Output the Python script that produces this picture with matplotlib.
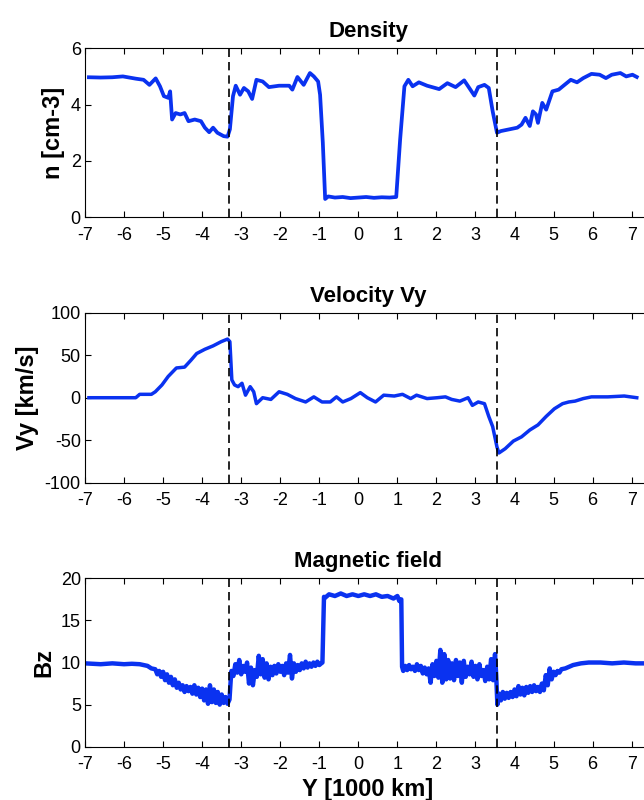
import matplotlib
matplotlib.use("Agg")
import matplotlib.pyplot as plt

plt.rcParams["font.family"] = ["Liberation Sans", "DejaVu Sans"]
plt.rcParams["axes.unicode_minus"] = False

# boundaries (dashed lines), in 1000 km
bounds = [-3.3, 3.55]

# density n [cm-3]
dens_x = [-6.9, -6.6, -6.3, -6.03, -5.7, -5.5, -5.35, -5.19, -5.08, -4.98, -4.87, -4.82,
          -4.77, -4.68, -4.56, -4.45, -4.35, -4.19, -4.03, -3.93, -3.82, -3.72, -3.61,
          -3.45, -3.35, -3.29, -3.21, -3.14, -3.03, -2.93, -2.82, -2.72, -2.61, -2.45,
          -2.29, -2.03, -1.77, -1.69, -1.56, -1.4, -1.24, -1.14, -1.03, -0.98, -0.91,
          -0.85, -0.77, -0.6, -0.4, -0.2, 0.0, 0.2, 0.4, 0.6, 0.8, 0.97, 1.07, 1.18, 1.28,
          1.39, 1.55, 1.76, 2.07, 2.28, 2.49, 2.71, 2.86, 2.97, 3.07, 3.23, 3.34, 3.44,
          3.55, 3.65, 3.86, 4.07, 4.18, 4.28, 4.39, 4.47, 4.55, 4.6, 4.71, 4.81, 4.97, 5.13,
          5.28, 5.44, 5.6, 5.76, 5.97, 6.18, 6.34, 6.49, 6.71, 6.86, 7.02, 7.13]
dens = [4.97, 4.96, 4.97, 5.0, 4.92, 4.88, 4.7, 4.93, 4.65, 4.3, 4.24, 4.47,
        3.47, 3.7, 3.65, 3.7, 3.41, 3.47, 3.41, 3.18, 3.02, 3.18, 3.0,
        2.88, 2.86, 3.12, 4.3, 4.67, 4.35, 4.59, 4.47, 4.2, 4.88, 4.82,
        4.62, 4.67, 4.67, 4.53, 4.98, 4.7, 5.12, 5.0, 4.82, 4.35, 2.65,
        0.65, 0.74, 0.7, 0.72, 0.68, 0.7, 0.72, 0.69, 0.71, 0.7, 0.72, 2.76, 4.65, 4.88,
        4.65, 4.79, 4.67, 4.55, 4.76, 4.62, 4.86, 4.55, 4.32, 4.62, 4.7, 4.59, 3.76,
        3.0, 3.06, 3.12, 3.18, 3.29, 3.53, 3.24, 3.76, 3.65, 3.35, 4.06, 3.82, 4.47, 4.53,
        4.7, 4.88, 4.79, 4.94, 5.09, 5.06, 4.94, 5.06, 5.12, 5.0, 5.06, 4.98]

# velocity Vy [km/s]
vel_x = [-6.9, -6.3, -5.7, -5.6, -5.3, -5.2, -5.03, -4.87, -4.66, -4.45, -4.29, -4.14,
         -3.93, -3.72, -3.51, -3.35, -3.29, -3.24, -3.17, -3.08, -2.98, -2.89, -2.77,
         -2.68, -2.61, -2.45, -2.24, -2.03, -1.82, -1.61, -1.35, -1.14, -0.93, -0.72,
         -0.56, -0.4, -0.19, 0.05, 0.23, 0.44, 0.65, 0.92, 1.13, 1.34, 1.49, 1.76, 2.02,
         2.23, 2.39, 2.6, 2.81, 2.92, 3.07, 3.23, 3.34, 3.44, 3.55, 3.6, 3.76, 3.97, 4.18,
         4.39, 4.6, 4.81, 5.02, 5.23, 5.39, 5.55, 5.76, 5.97, 6.39, 6.81, 7.13]
vel = [0, 0, 0, 4, 4, 7, 15, 25, 35, 36, 44, 52,
       57, 61, 66, 69, 66, 21, 15, 13, 17, 3, 13,
       7, -7, 0, -2, 7, 4, -1, -5, 1, -5, -5,
       1, -5, -1, 6, 0, -5, 3, 2, 4, -1, 3, -1, 0,
       1, -2, -4, 0, -9, -5, -7, -22, -34, -58, -65, -60, -51, -46,
       -38, -32, -22, -13, -7, -5, -4, -1, 1, 1, 2, 0]

# magnetic field Bz
bz_x = [-7.0, -6.6, -6.3, -6.0, -5.8, -5.6, -5.5, -5.4, -5.3,
        -5.2, -5.15, -5.1, -5.05, -5.0, -4.95, -4.9, -4.85, -4.8, -4.75, -4.7, -4.65,
        -4.6, -4.55, -4.5, -4.45, -4.4, -4.35, -4.3, -4.25, -4.2, -4.15, -4.1, -4.05,
        -4.0, -3.95, -3.9, -3.85, -3.8, -3.75, -3.7, -3.65, -3.6, -3.55, -3.5, -3.45,
        -3.4, -3.35, -3.3, -3.27, -3.25,
        -3.2, -3.15, -3.1, -3.05, -3.0, -2.95, -2.9, -2.85, -2.8, -2.75, -2.7, -2.65,
        -2.6, -2.55, -2.5, -2.45, -2.4, -2.35, -2.3, -2.25, -2.2, -2.15, -2.1, -2.05,
        -2.0, -1.95, -1.9, -1.85, -1.8, -1.75, -1.7, -1.65, -1.6, -1.55, -1.5, -1.45,
        -1.4, -1.35, -1.3, -1.25, -1.2, -1.15, -1.1, -1.05, -1.0, -0.95, -0.92, -0.88,
        -0.85, -0.75, -0.6, -0.45, -0.3, -0.15, 0.0, 0.15, 0.3, 0.45, 0.6, 0.75, 0.9,
        1.0, 1.05, 1.1, 1.12,
        1.15, 1.2, 1.25, 1.3, 1.35, 1.4, 1.45, 1.5, 1.55, 1.6, 1.65, 1.7, 1.75, 1.8,
        1.85, 1.9, 1.95, 2.0, 2.05, 2.1, 2.15, 2.2, 2.25, 2.3, 2.35, 2.4, 2.45, 2.5,
        2.55, 2.6, 2.65, 2.7, 2.75, 2.8, 2.85, 2.9, 2.95, 3.0, 3.05, 3.1, 3.15, 3.2,
        3.25, 3.3, 3.35, 3.4, 3.45, 3.5, 3.53, 3.56,
        3.6, 3.65, 3.7, 3.75, 3.8, 3.85, 3.9, 3.95, 4.0, 4.05, 4.1, 4.15, 4.2, 4.25,
        4.3, 4.35, 4.4, 4.45, 4.5, 4.55, 4.6, 4.65, 4.7, 4.75, 4.8, 4.85, 4.9, 4.95,
        5.0, 5.05, 5.1, 5.15, 5.2, 5.3, 5.4, 5.5, 5.7, 5.9, 6.2, 6.5, 6.8, 7.1, 7.3]
bz = [9.9, 9.8, 9.9, 9.8, 9.85, 9.8, 9.7, 9.6, 9.3,
      9.2, 8.6, 9.0, 8.3, 8.9, 7.9, 8.6, 7.6, 8.3, 7.3, 8.0, 7.0,
      7.6, 6.8, 7.3, 6.5, 7.2, 6.6, 7.1, 6.3, 7.3, 6.2, 7.0, 5.9,
      6.9, 5.5, 6.8, 5.1, 7.3, 5.3, 6.8, 5.2, 6.5, 5.0, 6.2, 5.2,
      5.9, 5.1, 5.6, 7.8, 9.0,
      8.4, 9.8, 8.8, 10.3, 8.6, 9.6, 8.9, 10.0, 7.5, 9.4, 7.3, 9.1,
      8.3, 10.8, 8.6, 10.4, 8.2, 9.9, 8.0, 9.5, 8.5, 9.6, 8.7, 9.8,
      8.9, 9.6, 8.5, 9.9, 8.8, 10.9, 8.1, 9.9, 8.9, 9.7, 9.1, 9.9,
      9.3, 10.1, 9.4, 9.9, 9.5, 10.0, 9.6, 10.1, 9.7, 9.9, 10.0, 17.8,
      17.7, 18.1, 17.9, 18.2, 17.9, 18.1, 17.9, 18.1, 17.9, 18.1, 17.8, 17.9, 17.6,
      17.9, 17.3, 17.5, 9.5,
      9.0, 9.6, 9.1, 9.7, 9.2, 9.5, 9.0, 9.8, 9.1, 9.6, 8.7, 9.4, 8.6, 9.3,
      7.6, 9.8, 8.4, 10.2, 8.2, 11.5, 7.6, 11.0, 8.0, 10.3, 8.1, 9.9, 7.9, 10.3,
      8.4, 10.0, 7.6, 10.2, 8.3, 9.5, 8.6, 10.1, 8.3, 9.6, 8.0, 9.8, 8.4, 9.1,
      7.8, 9.5, 8.0, 10.4, 7.9, 11.0, 8.5, 5.0,
      6.3, 5.5, 6.5, 5.7, 6.4, 5.8, 6.5, 5.9, 6.8, 6.0, 7.2, 6.2, 7.0, 6.1,
      7.1, 6.4, 7.2, 6.5, 7.3, 6.6, 7.1, 6.5, 7.5, 6.7, 8.5, 7.3, 9.3, 8.0,
      8.9, 8.5, 9.0, 8.8, 9.2, 9.3, 9.5, 9.7, 9.9, 10.0, 10.0, 9.9, 10.0, 9.9, 9.9]

blue = "#0a32f0"

fig = plt.figure(figsize=(6.44, 8), dpi=100)

# axes placed by hand, right side runs past the picture edge like the original
ax1 = fig.add_axes([0.132, 0.7284, 0.8792, 0.2113])
ax2 = fig.add_axes([0.132, 0.3966, 0.8792, 0.2125])
ax3 = fig.add_axes([0.132, 0.0666, 0.8792, 0.2105])

panels = [
    (ax1, dens_x, dens, "Density", "n [cm-3]", (0, 6), [0, 2, 4, 6], 2.7),
    (ax2, vel_x, vel, "Velocity Vy", "Vy [km/s]", (-100, 100), [-100, -50, 0, 50, 100], 2.5),
    (ax3, bz_x, bz, "Magnetic field", "Bz", (0, 20), [0, 5, 10, 15, 20], 3.2),
]

for ax, x, y, title, ylab, ylim, yt, lw in panels:
    ax.plot(x, y, color=blue, lw=lw)
    for b in bounds:
        ax.axvline(b, color="black", ls=(0, (5, 3)), lw=1.2)
    ax.set_xlim(-7, 7.5)
    ax.set_ylim(*ylim)
    ax.set_xticks(range(-7, 8))
    ax.set_yticks(yt)
    ax.tick_params(direction="in", length=4, width=0.8, labelsize=13,
                   top=True, right=True)
    ax.tick_params(axis="x", pad=7)
    ax.tick_params(axis="y", pad=3)
    for s in ax.spines.values():
        s.set_linewidth(0.8)
    ax.set_title(title, fontsize=16, fontweight="bold", pad=8)
    ax.set_ylabel(ylab, fontsize=17, fontweight="bold", labelpad=4)

ax3.set_xlabel("Y [1000 km]", fontsize=17, fontweight="bold", labelpad=3)

fig.savefig("out.png", dpi=100)
